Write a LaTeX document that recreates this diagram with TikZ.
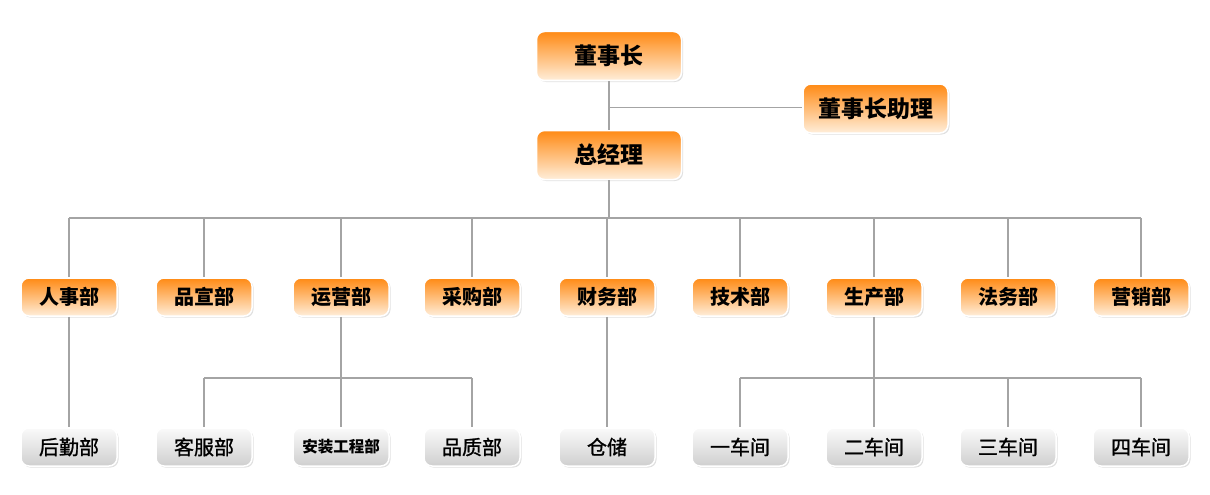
\documentclass[tikz,border=0pt]{standalone}
\usepackage{fontspec}
\newfontfamily\cjk{Noto Sans CJK SC}
\newfontfamily\cjkm[FakeBold=1.2]{Noto Sans CJK SC}
\usetikzlibrary{shadows}
\definecolor{orTop}{HTML}{FF8A14}
\definecolor{orBot}{HTML}{FFEEDA}
\definecolor{grTop}{HTML}{FAFAFA}
\definecolor{grBot}{HTML}{CFCFCF}
\definecolor{lineC}{HTML}{A4A4A4}
\tikzset{
  boxbase/.style={draw=white, line width=1.5pt, rounded corners=8pt, inner sep=0pt,
    drop shadow={shadow xshift=1.5pt, shadow yshift=-1.5pt, opacity=0.35, fill=gray!70}},
  topbox/.style={boxbase, minimum width=145pt, minimum height=49pt, top color=orTop, bottom color=orBot,
    font=\cjk\bfseries\fontsize{23}{26}\selectfont},
  midbox/.style={boxbase, minimum width=96pt, minimum height=38pt, top color=orTop, bottom color=orBot,
    font=\cjk\bfseries\fontsize{20}{23}\selectfont},
  lowbox/.style={boxbase, minimum width=96pt, minimum height=38pt, top color=grTop, bottom color=grBot,
    font=\cjkm\fontsize{20}{23}\selectfont},
  conn/.style={draw=lineC, line width=1.6pt}
}
\begin{document}
\begin{tikzpicture}[x=1pt,y=-1pt]
\useasboundingbox (0,0) rectangle (1210,495);
\coordinate (jA) at (609,107.5);
\coordinate (jB) at (609,218);
\coordinate (jL) at (69,218);
\coordinate (jR) at (1141,218);
\coordinate (kL) at (204,378);
\coordinate (kM) at (472,378);
\coordinate (mL) at (740,378);
\coordinate (mR) at (1141,378);

\node[topbox] (ceo) at (609,56) {董事长};
\node[topbox] (asst) at (875.5,108.5) {董事长助理};
\node[topbox] (gm) at (609,155) {总经理};

\node[midbox] (d1) at (69,297) {人事部};
\node[midbox] (d2) at (204,297) {品宣部};
\node[midbox] (d3) at (341,297) {运营部};
\node[midbox] (d4) at (472,297) {采购部};
\node[midbox] (d5) at (607,297) {财务部};
\node[midbox] (d6) at (740,297) {技术部};
\node[midbox] (d7) at (874,297) {生产部};
\node[midbox] (d8) at (1008,297) {法务部};
\node[midbox] (d9) at (1141,297) {营销部};

\node[lowbox] (e1) at (69,447) {后勤部};
\node[lowbox] (e2) at (204,447) {客服部};
\node[lowbox, font=\cjk\bfseries\fontsize{15.5}{18}\selectfont] (e3) at (341,447) {安装工程部};
\node[lowbox] (e4) at (472,447) {品质部};
\node[lowbox] (e5) at (607,447) {仓储};
\node[lowbox] (e6) at (740,447) {一车间};
\node[lowbox] (e7) at (874,447) {二车间};
\node[lowbox] (e8) at (1008,447) {三车间};
\node[lowbox] (e9) at (1141,447) {四车间};

\draw[conn] (ceo.south) -- (gm.north);
\draw[conn] (jA) -- (jA -| asst.west);
\draw[conn] (gm.south) -- (jB);
\draw[conn] (jL) -- (jR);
\draw[conn] (kL) -- (kM);
\draw[conn] (mL) -- (mR);

\foreach \n in {d1,d2,d3,d4,d5,d6,d7,d8,d9}{
  \draw[conn] (jB -| \n) -- (\n.north);
}
\foreach \n in {e2,e4}{
  \draw[conn] (kL -| \n) -- (\n.north);
}
\foreach \n in {e6,e8,e9}{
  \draw[conn] (mL -| \n) -- (\n.north);
}
\draw[conn] (d1.south) -- (e1.north);
\draw[conn] (d3.south) -- (e3.north);
\draw[conn] (d5.south) -- (e5.north);
\draw[conn] (d7.south) -- (e7.north);
\end{tikzpicture}
\end{document}
